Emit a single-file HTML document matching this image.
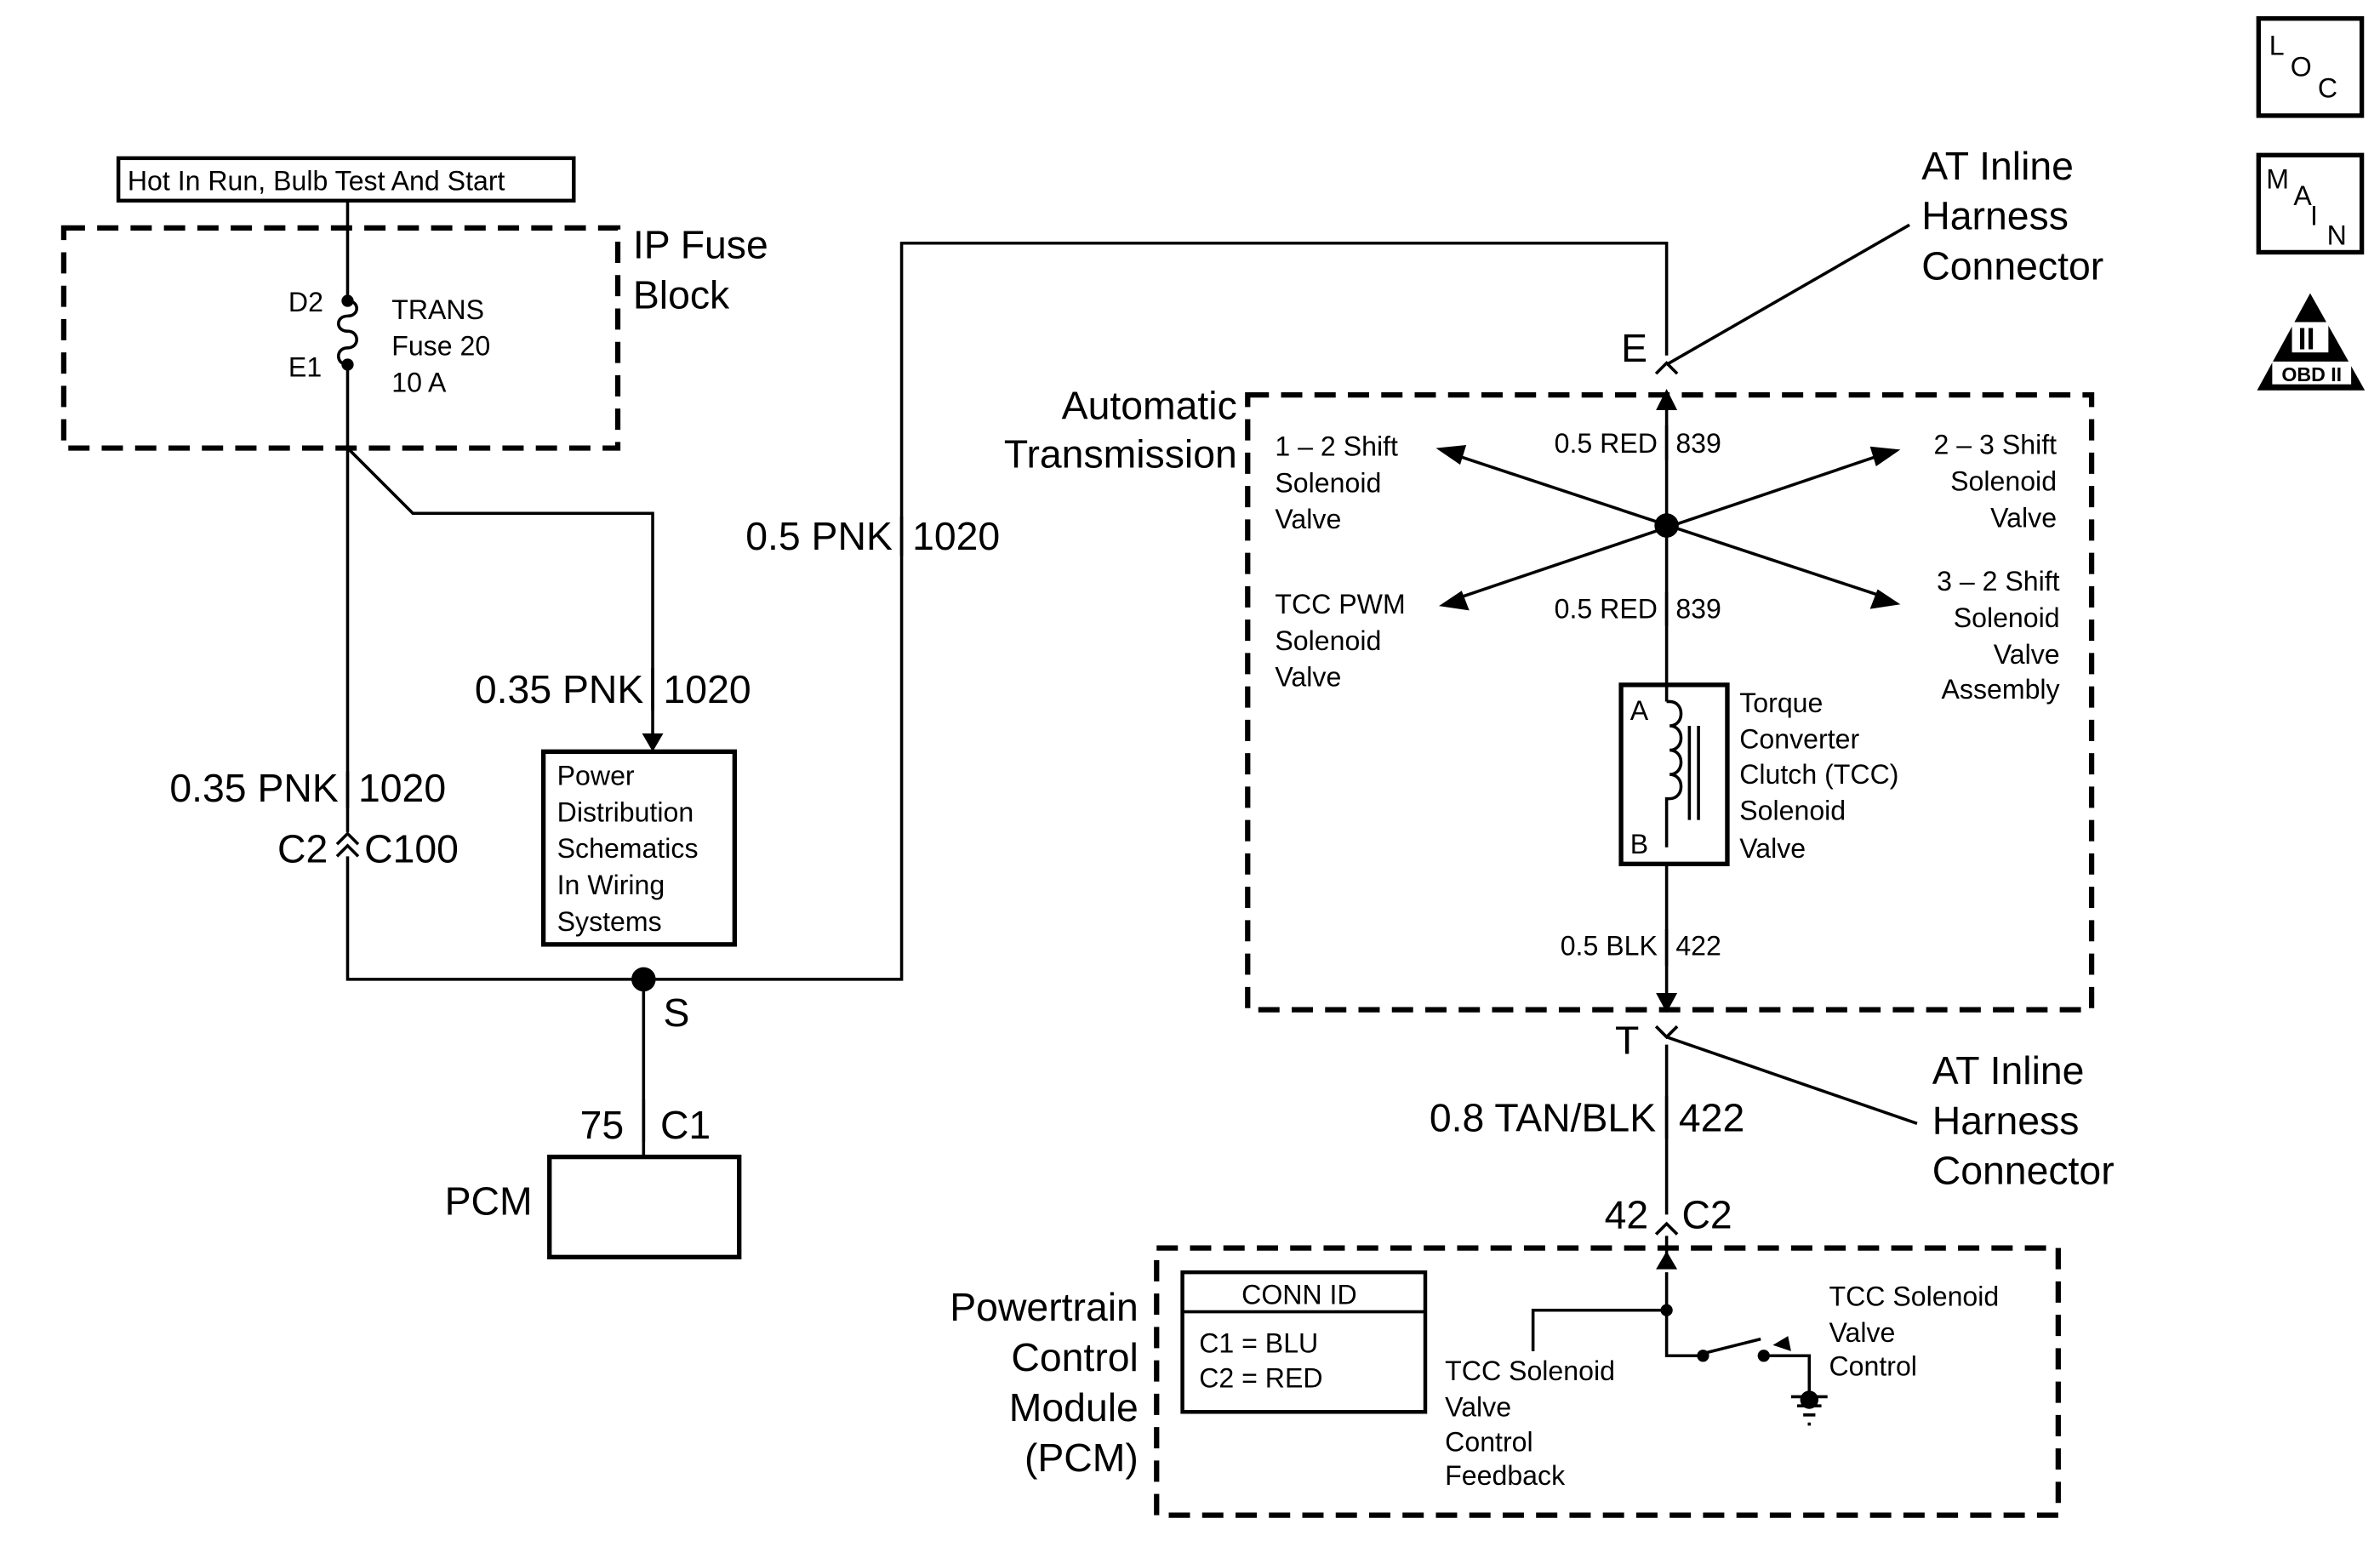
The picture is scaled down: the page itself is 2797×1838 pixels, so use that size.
<!DOCTYPE html>
<html><head><meta charset="utf-8"><style>
html,body{margin:0;padding:0;background:#fff}
svg{display:block}
text{font-family:"Liberation Sans",sans-serif;fill:#000}
</style></head><body>
<svg width="2797" height="1838" viewBox="0 0 1568 1030" xmlns="http://www.w3.org/2000/svg">
<g fill="none" stroke="#000" stroke-width="2">
<rect x="78" y="104" width="300" height="28" stroke-width="2.5"/>
<rect x="42" y="150" width="365" height="145" stroke-width="3.5" stroke-dasharray="14,8"/>
<rect x="822" y="260" width="556" height="405" stroke-width="3.5" stroke-dasharray="14,8"/>
<rect x="762" y="822" width="594" height="176" stroke-width="3.5" stroke-dasharray="14,8"/>
<path d="M229 132 V198 M229 240 V548 M229 564 V645 H594 V160 H1098 V234"/>
<path d="M229 198 c8 0 8 10 0 10 c-8 0 -8 10 0 10 M229 218 c8 0 8 11 0 11 c-8 0 -8 11 0 11" />
<path d="M229 295 L272 338 H430 V485"/>
<rect x="358" y="495" width="126" height="127" stroke-width="3"/>
<path d="M430 440 V468 M229 508 V532 M594 340 V366 M1098 280 V303 M1098 390 V412 M1098 612 V636 M1098 722 V750"/>
<path d="M222 556 L229 549 L236 556 M222 564 L229 557 L236 564"/>
<path d="M424 645 V762"/>
<path d="M424 724 V752"/>
<rect x="362" y="762" width="125" height="66" stroke-width="3"/>
<path d="M1091 246 L1098 239 L1105 246"/>
<path d="M1098 240 L1258 148"/>
<path d="M1098 262 V451 M1098 569 V660 M1098 688 V800 M1098 814 V826"/>
<path d="M960 300 L1238 392 M960 394 L1238 300"/>
<rect x="1068" y="451" width="70" height="118" stroke-width="3"/>
<path d="M1098 462 H1100 c10 0 10 16 0 16 c10 0 10 16 0 16 c10 0 10 16 0 16 c10 0 10 16 0 16 H1098 V558 M1098 462 V451"/>
<path d="M1113 478 V540 M1119 478 V540"/>
<path d="M1091 676 L1098 683 L1105 676 M1098 683 L1263 740"/>
<path d="M1091 813 L1098 806 L1105 813"/>
<path d="M1098 838 V893 H1122 M1098 863 H1010 V890 M1124 891 L1160 882 M1162 893 H1192 V918"/>
<path d="M1180 920 H1204 M1184 926 H1200 M1188 932 H1196 M1191 938 H1193"/>
<rect x="779" y="838" width="160" height="92" stroke-width="2.5"/>
<path d="M779 864 H939"/>
<rect x="1488" y="12" width="68" height="64" stroke-width="3"/>
<rect x="1488" y="102" width="68" height="64" stroke-width="3"/>
</g>
<g fill="#000">
<circle cx="229" cy="198" r="4"/><circle cx="229" cy="240" r="4"/>
<circle cx="424" cy="645" r="8"/><circle cx="1098" cy="346" r="8"/>
<circle cx="1098" cy="863" r="4"/><circle cx="1122" cy="893" r="4"/><circle cx="1162" cy="893" r="4"/>
<circle cx="1192" cy="922" r="6"/>
<path d="M423 495 L437 495 L430 483 Z" transform="rotate(180 430 489)"/>
<path d="M1091 270 L1105 270 L1098 256 Z"/>
<path d="M1091 654 L1105 654 L1098 667 Z"/>
<path d="M1091 836 L1105 836 L1098 824 Z"/>
<path d="M946 295 L966 293 L962 306 Z"/>
<path d="M1252 296 L1232 294 L1236 307 Z"/>
<path d="M948 399 L963 389 L968 402 Z"/>
<path d="M1252 398 L1237 388 L1232 401 Z"/>
<path d="M1122 886 L1110 882 L1112 892 Z" transform="rotate(180 1145 886)"/>
<path d="M1487 257 L1522 193 L1558 257 Z"/>
</g>
<g font-size="18">
<text x="84" y="125">Hot In Run, Bulb Test And Start</text>
<text x="190" y="205">D2</text><text x="190" y="248">E1</text>
<text x="258" y="210">TRANS</text><text x="258" y="234">Fuse 20</text><text x="258" y="258">10 A</text>
<text x="367" y="517">Power</text><text x="367" y="541">Distribution</text><text x="367" y="565">Schematics</text><text x="367" y="589">In Wiring</text><text x="367" y="613">Systems</text>
<text x="1092" y="298" text-anchor="end">0.5 RED</text><text x="1104" y="298">839</text>
<text x="1092" y="407" text-anchor="end">0.5 RED</text><text x="1104" y="407">839</text>
<text x="1092" y="629" text-anchor="end">0.5 BLK</text><text x="1104" y="629">422</text>
<text x="840" y="300">1 – 2 Shift</text><text x="840" y="324">Solenoid</text><text x="840" y="348">Valve</text>
<text x="840" y="404">TCC PWM</text><text x="840" y="428">Solenoid</text><text x="840" y="452">Valve</text>
<g text-anchor="end"><text x="1355" y="299">2 – 3 Shift</text><text x="1355" y="323">Solenoid</text><text x="1355" y="347">Valve</text>
<text x="1357" y="389">3 – 2 Shift</text><text x="1357" y="413">Solenoid</text><text x="1357" y="437">Valve</text><text x="1357" y="460">Assembly</text></g>
<text x="1074" y="474">A</text><text x="1074" y="562">B</text>
<text x="1146" y="469">Torque</text><text x="1146" y="493">Converter</text><text x="1146" y="516">Clutch (TCC)</text><text x="1146" y="540">Solenoid</text><text x="1146" y="565">Valve</text>
<text x="818" y="859">CONN ID</text><text x="790" y="891">C1 = BLU</text><text x="790" y="914">C2 = RED</text>
<text x="952" y="909">TCC Solenoid</text><text x="952" y="933">Valve</text><text x="952" y="956">Control</text><text x="952" y="978">Feedback</text>
<text x="1205" y="860">TCC Solenoid</text><text x="1205" y="884">Valve</text><text x="1205" y="906">Control</text>
<text x="1495" y="36">L</text><text x="1509" y="50">O</text><text x="1527" y="64">C</text>
<text x="1493" y="124">M</text><text x="1511" y="135">A</text><text x="1522" y="148">I</text><text x="1533" y="161">N</text>
</g>
<g font-size="26">
<text x="417" y="170">IP Fuse</text><text x="417" y="203">Block</text>
<text x="424" y="463" text-anchor="end">0.35 PNK</text><text x="437" y="463">1020</text>
<text x="223" y="528" text-anchor="end">0.35 PNK</text><text x="236" y="528">1020</text>
<text x="216" y="568" text-anchor="end">C2</text><text x="240" y="568">C100</text>
<text x="588" y="362" text-anchor="end">0.5 PNK</text><text x="601" y="362">1020</text>
<text x="437" y="676">S</text>
<text x="411" y="750" text-anchor="end">75</text><text x="435" y="750">C1</text>
<text x="293" y="800">PCM</text>
<text x="1068" y="238">E</text>
<text x="1266" y="118">AT Inline</text><text x="1266" y="151">Harness</text><text x="1266" y="184">Connector</text>
<text x="815" y="276" text-anchor="end">Automatic</text><text x="815" y="308" text-anchor="end">Transmission</text>
<text x="1064" y="694">T</text>
<text x="1273" y="714">AT Inline</text><text x="1273" y="747">Harness</text><text x="1273" y="780">Connector</text>
<text x="1091" y="745" text-anchor="end">0.8 TAN/BLK</text><text x="1106" y="745">422</text>
<text x="1086" y="809" text-anchor="end">42</text><text x="1108" y="809">C2</text>
<g text-anchor="end"><text x="750" y="870">Powertrain</text><text x="750" y="903">Control</text><text x="750" y="936">Module</text><text x="750" y="969">(PCM)</text></g>
</g>
<rect x="1510" y="212" width="24" height="20" fill="#fff"/>
<text x="1514" y="230" font-size="20" font-weight="bold" fill="#000">II</text>
<rect x="1497" y="238" width="52" height="15" fill="#fff"/>
<text x="1523" y="251" font-size="13" font-weight="bold" text-anchor="middle">OBD II</text>
</svg>
</body></html>
